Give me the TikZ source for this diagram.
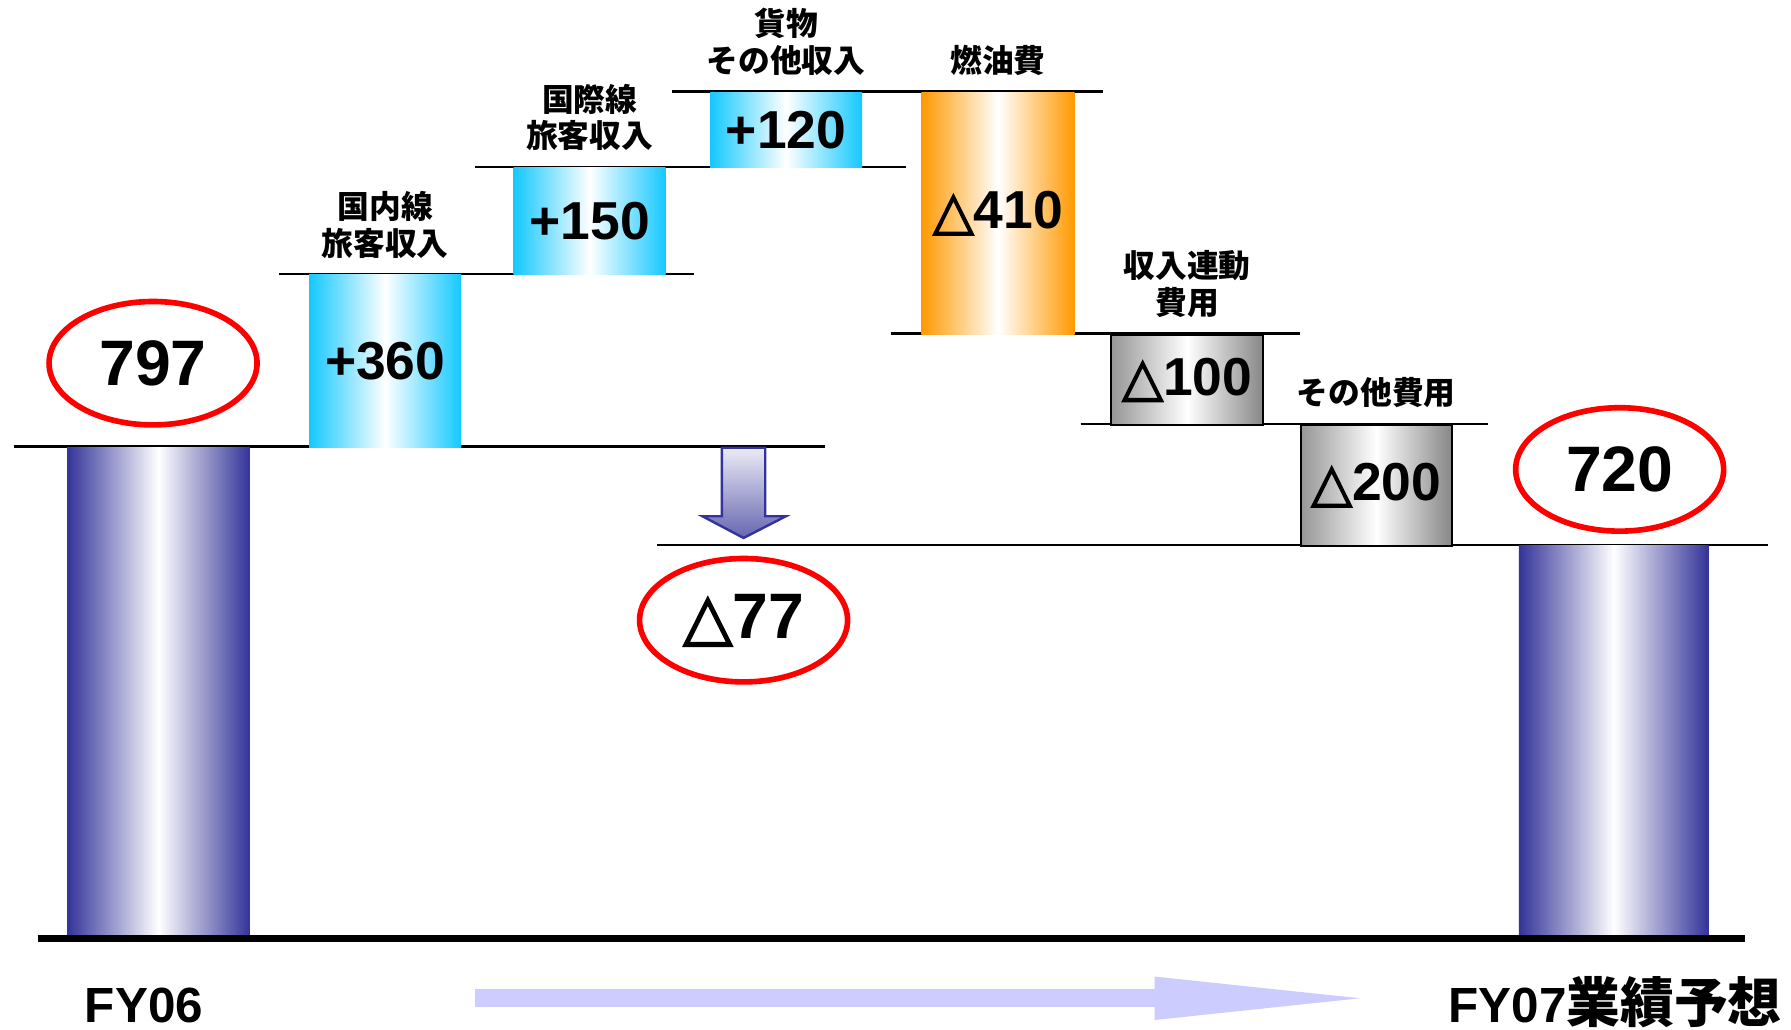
\documentclass[tikz,border=0pt]{standalone}
\usepackage{fontspec}
\setmainfont{Liberation Sans}
\newfontfamily\jp{Noto Sans CJK JP}
\newfontfamily\sym{DejaVu Sans}[FakeBold=2.5]
\usetikzlibrary{shapes,positioning,arrows.meta}

\definecolor{navy}{RGB}{51,51,153}
\definecolor{skyc}{RGB}{20,200,255}
\definecolor{fuelc}{RGB}{255,153,0}
\definecolor{greyc}{RGB}{150,150,150}
\definecolor{lavender}{RGB}{204,204,255}

\newcommand{\tri}{{\sym △}}

\begin{document}
\begin{tikzpicture}[x=0.01cm,y=-0.01cm,
  base/.style={rectangle,inner sep=0pt,anchor=north west,left color=navy,right color=navy,middle color=white},
  gain/.style={rectangle,inner sep=0pt,anchor=north west,minimum width=1.33cm,
    left color=skyc,right color=skyc,middle color=white,font=\bfseries\fontsize{13.3}{14}\selectfont},
  fuel/.style={gain,left color=fuelc,right color=fuelc,middle color=white},
  cost/.style={gain,draw=black,line width=0.5pt,left color=greyc,right color=greyc!90!black,middle color=white},
  ring/.style={ellipse,draw=red,line width=1.4pt,minimum width=1.82cm,minimum height=1.08cm,inner sep=0pt,
    font=\bfseries\fontsize{16}{16}\selectfont},
  item/.style={inner sep=0pt,align=center,font=\jp\bfseries\fontsize{7.9}{9.2}\selectfont},
  level/.style={line width=0.6pt},
  year/.style={inner sep=0pt,anchor=base,font=\bfseries\fontsize{12.3}{12}\selectfont},
]
\useasboundingbox (0,0) rectangle (1568,901);

\draw[level] (12,391) -- (722,391);
\draw[level] (244,240) -- (608,240);
\draw[level] (416,146) -- (793,146);
\draw[level] (588,80) -- (966,80);
\draw[level] (780,292) -- (1138,292);
\draw[level] (946,371) -- (1303,371);
\draw[level] (575,477) -- (1548,477);

\node[base,minimum width=1.6cm,minimum height=4.31cm] (fy06) at (58,391) {};
\node[gain,minimum height=1.51cm] (dom) at (270,240) {+360};
\node[gain,minimum height=0.94cm] (intl) at (449,146) {+150};
\node[gain,minimum height=0.66cm] (cargo) at (621,80) {+120};
\node[fuel,minimum width=1.34cm,minimum height=2.12cm] (fuelbar) at (806,80) {\tri410};
\node[cost,minimum height=0.79cm] (linked) at (972,292) {\tri100};
\node[cost,minimum width=1.32cm,minimum height=1.06cm] (other) at (1138,371) {\tri200};
\node[base,minimum width=1.66cm,minimum height=3.45cm] (fy07) at (1329,477) {};

\node[item,above=1.3mm of dom] (domlbl) {国内線\\旅客収入};
\node[item,above=1.3mm of intl] (intllbl) {国際線\\旅客収入};
\node[item,above=1.3mm of cargo] (cargolbl) {貨物\\その他収入};
\node[item,above=1.3mm of fuelbar] (fuellbl) {燃油費};
\node[item,above=1.3mm of linked] (linkedlbl) {収入連動\\費用};
\node[item,above=1.3mm of other] (otherlbl) {その他費用};

\node[ring] (v797) at (134,318) {797};
\node[ring] (v720) at (1418,411) {720};
\node[ring] (v77) at (651,543) {\tri77};

\draw[draw=navy,line width=0.6pt,top color=white!90!navy,bottom color=navy!75!white]
  (632,392) -- (670,392) -- (670,452) -- (688,452) -- (651,471) -- (615,452) -- (632,452) -- cycle;

\draw[line width=1.7pt] (33,822) -- (1528,822);

\node[year] (fy06lbl) at (126,895) {FY06};
\node[year] (fy07lbl) at (1414,895) {FY07{\jp\fontsize{13.4}{13}\selectfont 業績予想}};

\coordinate (flowstart) at (416,874);
\coordinate (flowend) at (1213,874);
\draw[lavender,line width=0.16cm,-{Triangle[length=2.02cm,width=0.33cm]}] (flowstart) -- (flowend);
\end{tikzpicture}
\end{document}
